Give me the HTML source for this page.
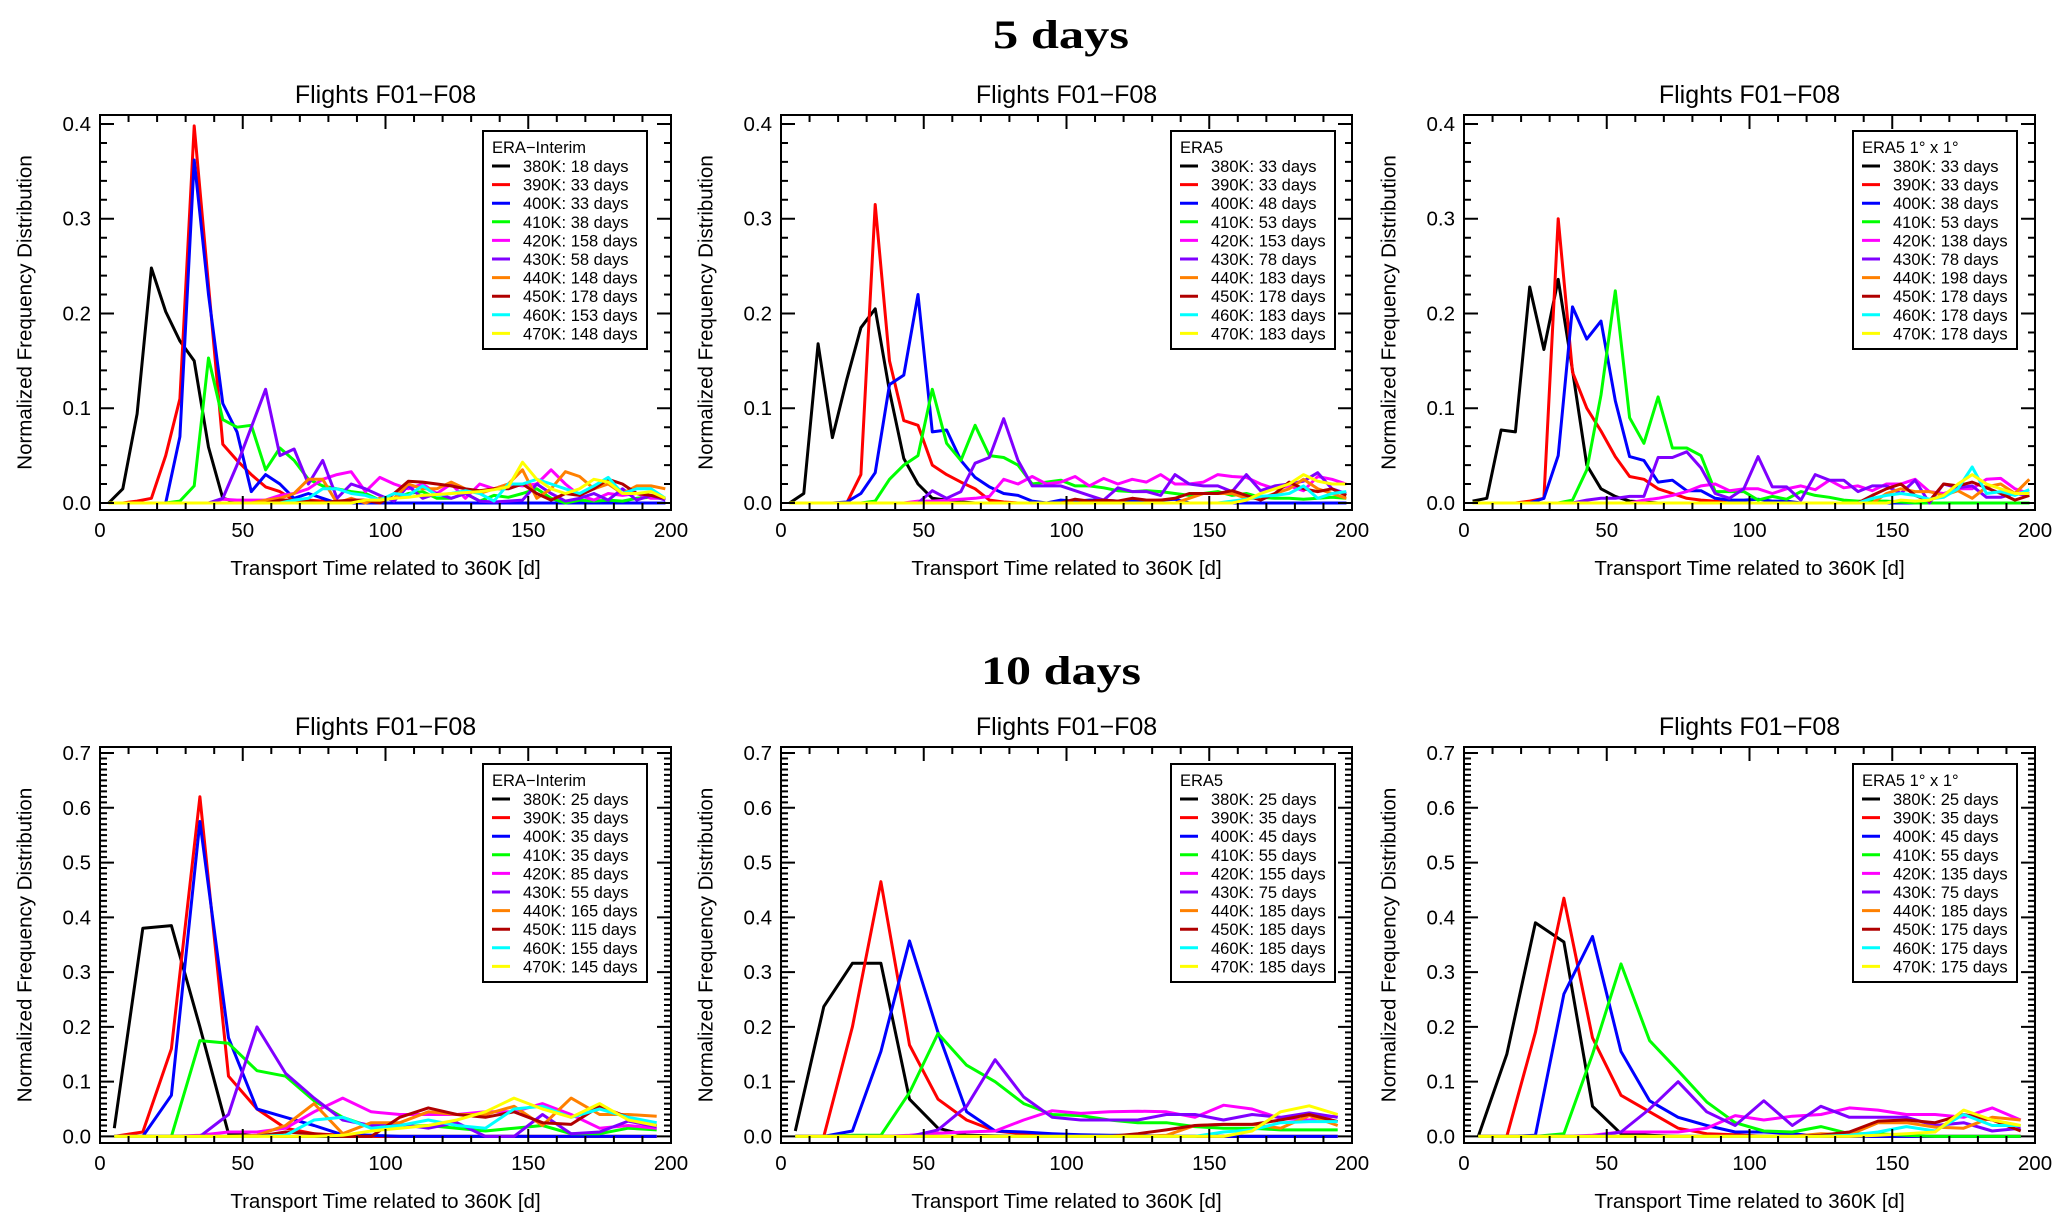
<!DOCTYPE html>
<html><head><meta charset="utf-8"><style>
html,body{margin:0;padding:0;background:#fff;}
svg{display:block;font-family:"Liberation Sans",Arial,sans-serif;}
</style></head><body>
<svg id="fig" width="2067" height="1231" viewBox="0 0 2067 1231" xmlns="http://www.w3.org/2000/svg">
<rect width="2067" height="1231" fill="#fff"/>
<text x="1061" y="48" font-family="Liberation Serif, serif" font-weight="bold" font-size="40" text-anchor="middle" textLength="136" lengthAdjust="spacingAndGlyphs">5 days</text>
<text x="1061" y="684" font-family="Liberation Serif, serif" font-weight="bold" font-size="40" text-anchor="middle" textLength="160" lengthAdjust="spacingAndGlyphs">10 days</text>
</svg>
<script>
// ---------- data ----------
const seriesLabels = ["380K","390K","400K","410K","420K","430K","440K","450K","460K","470K"];
const seriesColors = ["#000000","#ff0000","#0000ff","#00ff00","#ff00ff","#8000ff","#ff8000","#b00000","#00ffff","#ffff00"];
const xTicks = [0,50,100,150,200];
const yTicksTop = [0.0,0.1,0.2,0.3,0.4];
const yTicksBottom = [0.0,0.1,0.2,0.3,0.4,0.5,0.6,0.7];
const panelTitles = ["Flights F01\u2212F08","Flights F01\u2212F08","Flights F01\u2212F08","Flights F01\u2212F08","Flights F01\u2212F08","Flights F01\u2212F08"];
const legendTitles = ["ERA\u2212Interim","ERA5","ERA5 1\u00b0 x 1\u00b0","ERA\u2212Interim","ERA5","ERA5 1\u00b0 x 1\u00b0"];
const legendDaysA = [18,33,33,38,158,58,148,178,153,148];
const legendDaysB = [33,33,48,53,153,78,183,178,183,183];
const legendDaysC = [33,33,38,53,138,78,198,178,178,178];
const legendDaysD = [25,35,35,35,85,55,165,115,155,145];
const legendDaysE = [25,35,45,55,155,75,185,185,185,185];
const legendDaysF = [25,35,45,55,135,75,185,175,175,175];
// bin centres
const xTop = [3,8,13,18,23,28,33,38,43,48,53,58,63,68,73,78,83,88,93,98,103,108,113,118,123,128,133,138,143,148,153,158,163,168,173,178,183,188,193,198];
const xBottom = [5,15,25,35,45,55,65,75,85,95,105,115,125,135,145,155,165,175,185,195];
// Panel A: ERA-Interim, 5 days
const A380=[0,.015,.094,.248,.202,.171,.15,.059,.005,.001];
const A390=[0,0,.002,.005,.05,.11,.398,.23,.062,.045,.03,.017,.012,.003,.003,.002,.001];
const A400=[0,0,0,0,0,.07,.362,.22,.105,.075,.012,.03,.02,.005,.01,.005];
const A410=[0,0,0,0,0,.002,.018,.153,.088,.08,.082,.035,.058,.045,.025,.018,.015,.012,.01,.003,.005,.01,.012,.005,.005,.01,.002,.008,.006,.01,.015,.005,0,.003,.002,.003,.002,.005,.006,.005];
const A420=[0,0,0,0,0,0,0,0,.004,.003,.003,.003,.008,.01,.015,.025,.03,.033,.012,.027,.02,.015,.02,.01,.02,.005,.02,.015,.02,.018,.02,.035,.02,.008,.003,.01,.008,.01,.005,.005];
const A430=[0,0,0,0,0,0,0,0,.005,.04,.08,.12,.05,.057,.02,.045,.005,.02,.015,.008,.002,.018,.005,.01,.005,.01,.002,.001,.002,.003,.02,.01,.002,.005,.01,.003,.015,.003,.008,.003];
const A440=[0,0,0,0,0,0,0,0,0,0,0,.003,.005,.01,.025,.025,0,.005,0,.005,.005,.02,.015,.015,.022,.015,.01,.015,.02,.035,.005,.015,.033,.028,.015,.02,.01,.018,.018,.015];
const A450=[0,0,0,0,0,0,0,0,0,0,0,0,.003,.003,.002,0,.002,.003,.003,0,.01,.023,.022,.02,.018,.015,.013,.015,.015,.02,.01,.003,.01,.008,.015,.025,.02,.01,.008,.005];
const A460=[0,0,0,0,0,0,0,0,0,0,0,0,0,.003,.005,.015,.015,.01,.008,.003,.01,.008,.018,.008,.01,.013,.01,.002,.02,.02,.025,.02,.015,.01,.018,.027,.01,.015,.015,.005];
const A470=[0,0,0,0,0,0,0,0,0,0,0,0,0,0,0,0,0,0,.003,.003,.005,.006,.008,.009,.01,.011,.012,.014,.017,.043,.025,.015,.01,.015,.025,.022,.01,.01,.012,.005];
// Panel B: ERA5, 5 days
const B380=[0,.01,.168,.069,.13,.185,.205,.118,.047,.02,.005,.003,.001];
const B390=[0,0,0,0,0,.03,.315,.15,.087,.082,.04,.03,.022,.015,.003,.001];
const B400=[0,0,0,0,.001,.01,.032,.125,.135,.22,.075,.077,.045,.027,.017,.01,.008,.002,0,.003,.002,.003,.003,.002,.002,.002,.003,.004];
const B410=[0,0,0,0,0,0,.002,.025,.04,.05,.12,.063,.045,.082,.05,.048,.04,.02,.022,.024,.018,.018,.016,.013,.012,.013,.012,.01,.008,.01,.012,.008,.01,.006,.005,.005,.004,.005,.006,.005];
const B420=[0,0,0,0,0,0,0,0,0,.002,.002,.003,.004,.005,.007,.025,.02,.028,.02,.022,.028,.018,.026,.02,.025,.022,.03,.02,.02,.022,.03,.028,.027,.02,.015,.018,.013,.028,.025,.02];
const B430=[0,0,0,0,0,0,0,0,0,0,.013,.005,.012,.042,.048,.089,.045,.018,.018,.018,.013,.008,.003,.016,.012,.012,.008,.03,.02,.018,.018,.012,.03,.013,.018,.02,.023,.032,.015,.01];
const B440=[0,0,0,0,0,0,0,0,0,0,0,0,0,0,0,0,0,0,0,0,0,0,0,0,0,0,0,0,.005,.01,.01,.01,.005,.005,.01,.015,.025,.015,.01,.005];
const B450=[0,0,0,0,0,0,0,0,0,0,0,0,0,0,0,0,0,0,0,0,.004,.002,.003,.002,.005,.003,.003,.005,.01,.01,.01,.013,.008,.003,.01,.022,.015,.012,.015,.008];
const B460=[0,0,0,0,0,0,0,0,0,0,0,0,0,0,0,0,0,0,0,0,0,0,0,0,0,0,0,0,0,0,0,.002,.004,.007,.008,.01,.018,.005,.01,.012];
const B470=[0,0,0,0,0,0,0,0,0,0,0,0,0,0,0,0,0,0,0,0,0,0,0,0,0,0,0,0,0,0,0,0,.003,.01,.015,.02,.03,.023,.02,.02];
// Panel C: ERA5 1x1, 5 days
const C380=[.002,.005,.077,.075,.228,.162,.236,.14,.04,.015,.007,.002,.001];
const C390=[0,0,0,0,.002,.005,.3,.138,.1,.076,.049,.028,.025,.015,.01,.005,.003,.002];
const C400=[0,0,0,0,0,.005,.05,.207,.173,.192,.108,.049,.045,.022,.024,.013,.013,.005,.003,.003,.004,.002,.002];
const C410=[0,0,0,0,0,0,0,.003,.035,.114,.224,.09,.063,.112,.058,.058,.05,.012,.012,.012,.003,.007,.004,.012,.008,.006,.003,.002,.002,.002,.001];
const C420=[0,0,0,0,0,0,0,0,0,0,0,0,.003,.005,.008,.012,.018,.02,.013,.015,.015,.01,.015,.018,.014,.024,.016,.018,.013,.02,.02,.025,.012,.01,.015,.015,.025,.026,.015,.01];
const C430=[0,0,0,0,0,0,0,0,.003,.005,.005,.007,.007,.048,.048,.054,.037,.01,.005,.015,.049,.017,.017,.003,.03,.024,.024,.012,.018,.018,.01,.024,0,.02,.016,.018,.006,.006,.01,.008];
const C440=[0,0,0,0,0,0,0,0,0,0,0,0,0,0,0,0,0,0,0,0,0,0,0,0,0,0,0,0,0,.01,.015,.012,.012,.008,.013,.005,.017,.02,.01,.025];
const C450=[0,0,0,0,0,0,0,0,0,0,0,0,0,0,0,0,0,0,0,0,0,0,0,0,0,0,0,0,.008,.015,.02,.008,.002,.02,.018,.022,.016,.01,.003,.008];
const C460=[0,0,0,0,0,0,0,0,0,0,0,0,0,0,0,0,0,0,0,0,0,0,0,0,0,0,0,0,.005,.008,.01,.008,.004,.006,.015,.038,.01,.012,.008,.014];
const C470=[0,0,0,0,0,0,0,0,0,0,0,0,0,0,0,0,0,0,0,0,0,0,0,0,0,0,0,0,0,0,.003,.002,.003,.008,.02,.03,.02,.015,.01,.01];
// Panel D: ERA-Interim, 10 days
const D380=[.015,.38,.385,.2,.005,.001];
const D390=[0,.008,.16,.62,.11,.05,.015,.005,.002];
const D400=[0,0,.075,.575,.18,.05,.035,.02,.003,.002];
const D410=[0,0,0,.175,.17,.12,.11,.065,.035,.017,.018,.02,.015,.01,.015,.02,.005,.005,.015,.012];
const D420=[0,0,0,.002,.008,.008,.015,.045,.07,.045,.04,.04,.04,.045,.045,.06,.04,.015,.02,.015];
const D430=[0,0,0,0,.04,.2,.115,.07,.03,.02,.022,.015,.025,0,0,.04,.005,.008,.028,.018];
const D440=[0,0,0,0,0,.002,.02,.06,.005,.025,.025,.045,.04,.04,.055,.02,.07,.04,.04,.037];
const D450=[0,0,0,0,0,0,.008,.005,0,0,.035,.052,.04,.035,.045,.025,.022,.055,.035,.02];
const D460=[0,0,0,0,0,0,.002,.03,.035,.015,.02,.03,.02,.015,.05,.055,.035,.05,.035,.025];
const D470=[0,0,0,0,0,0,0,0,.002,.01,.015,.02,.03,.045,.07,.05,.035,.06,.03,.02];
// Panel E: ERA5, 10 days
const E380=[.01,.237,.316,.316,.068,.015,.002,.001];
const E390=[0,0,.2,.465,.167,.068,.03,.01,.005,.003,.002];
const E400=[0,0,.01,.155,.357,.19,.045,.01,.008,.005,.003,.002,.002];
const E410=[0,0,.002,.002,.08,.188,.13,.1,.06,.04,.038,.03,.025,.025,.018,.015,.015,.012,.012,.012];
const E420=[0,0,0,0,.002,.006,.008,.01,.03,.047,.042,.045,.046,.045,.035,.057,.05,.033,.03,.038];
const E430=[0,0,0,0,0,.012,.055,.14,.072,.035,.03,.03,.03,.04,.04,.03,.04,.035,.043,.035];
const E440=[0,0,0,0,0,0,0,0,0,0,0,0,0,.002,.02,.022,.022,.015,.038,.02];
const E450=[0,0,0,0,0,0,0,0,0,0,0,0,.005,.012,.02,.022,.022,.03,.04,.027];
const E460=[0,0,0,0,0,0,0,0,0,0,0,0,0,0,0,.008,.012,.025,.027,.027];
const E470=[0,0,0,0,0,0,0,0,0,0,0,0,0,0,0,0,.01,.045,.056,.04];
// Panel F: ERA5 1x1, 10 days
const F380=[0,.15,.39,.355,.055,.005,.002];
const F390=[0,0,.19,.435,.18,.075,.045,.015,.005,.003];
const F400=[0,0,.002,.26,.365,.155,.065,.035,.02,.008,.008,.005];
const F410=[0,0,0,.005,.15,.315,.175,.12,.063,.025,.01,.008,.018,.005,.005,.002];
const F420=[0,0,0,0,.002,.008,.008,.008,.015,.038,.03,.037,.04,.052,.048,.04,.04,.035,.052,.03];
const F430=[0,0,0,0,0,.008,.05,.1,.045,.02,.065,.02,.055,.035,.035,.035,.02,.025,.01,.015];
const F440=[0,0,0,0,0,0,0,0,0,0,0,0,.005,.003,.025,.025,.017,.015,.035,.03];
const F450=[0,0,0,0,0,0,0,0,0,0,0,0,.002,.008,.028,.03,.025,.04,.03,.01];
const F460=[0,0,0,0,0,0,0,0,0,0,0,0,0,.002,.008,.018,.01,.04,.02,.02];
const F470=[0,0,0,0,0,0,0,0,0,0,0,0,0,0,.002,.005,.008,.048,.03,.02];

// ---------- layout ----------
const NS = "http://www.w3.org/2000/svg";
const svg = document.getElementById("fig");
function mk(tag, attrs, parent){
  const e = document.createElementNS(NS, tag);
  for (const k in attrs) e.setAttribute(k, attrs[k]);
  (parent||svg).appendChild(e);
  return e;
}
const panels = [
  {x0:100, x1:671, y0:115, y1:510, ymin:-0.0074, ymax:0.4095, yt:yTicksTop, minorY:0.02, xs:xTop, data:[A380,A390,A400,A410,A420,A430,A440,A450,A460,A470], days:legendDaysA, lx:483, ly:131, n:"era-interim-5d"},
  {x0:781, x1:1352, y0:115, y1:510, ymin:-0.0074, ymax:0.4095, yt:yTicksTop, minorY:0.02, xs:xTop, data:[B380,B390,B400,B410,B420,B430,B440,B450,B460,B470], days:legendDaysB, lx:1171, ly:131, n:"era5-5d"},
  {x0:1464, x1:2035, y0:115, y1:510, ymin:-0.0074, ymax:0.4095, yt:yTicksTop, minorY:0.02, xs:xTop, data:[C380,C390,C400,C410,C420,C430,C440,C450,C460,C470], days:legendDaysC, lx:1853, ly:131, n:"era5-1x1-5d"},
  {x0:100, x1:671, y0:747, y1:1143, ymin:-0.012, ymax:0.711, yt:yTicksBottom, minorY:0.01, xs:xBottom, data:[D380,D390,D400,D410,D420,D430,D440,D450,D460,D470], days:legendDaysD, lx:483, ly:764, n:"era-interim-10d"},
  {x0:781, x1:1352, y0:747, y1:1143, ymin:-0.012, ymax:0.711, yt:yTicksBottom, minorY:0.01, xs:xBottom, data:[E380,E390,E400,E410,E420,E430,E440,E450,E460,E470], days:legendDaysE, lx:1171, ly:764, n:"era5-10d"},
  {x0:1464, x1:2035, y0:747, y1:1143, ymin:-0.012, ymax:0.711, yt:yTicksBottom, minorY:0.01, xs:xBottom, data:[F380,F390,F400,F410,F420,F430,F440,F450,F460,F470], days:legendDaysF, lx:1853, ly:764, n:"era5-1x1-10d"}
];

panels.forEach((p, pi) => {
  const g = mk("g", {});
  
  
  const sx = v => p.x0 + (v - 0) / 200 * (p.x1 - p.x0);
  const sy = v => p.y1 - (v - p.ymin) / (p.ymax - p.ymin) * (p.y1 - p.y0);
  const cx = (p.x0 + p.x1) / 2;

  const t = mk("text", {x:cx, y:p.y0 - 12, "font-size":25, "text-anchor":"middle"}, g);
  t.textContent = panelTitles[pi];
  
  

  const cid = "clip" + pi;
  const cp = mk("clipPath", {id:cid}, g);
  mk("rect", {x:p.x0, y:p.y0, width:p.x1-p.x0, height:p.y1-p.y0}, cp);

  const sg = mk("g", {"clip-path":"url(#"+cid+")"}, g);
  p.data.forEach((arr, si) => {
    let d = "";
    p.xs.forEach((xv, i) => {
      const v = i < arr.length ? arr[i] : 0;
      d += (i ? "L" : "M") + sx(xv).toFixed(1) + "," + sy(v).toFixed(1);
    });
    const path = mk("path", {d:d, fill:"none", stroke:seriesColors[si], "stroke-width":3, "stroke-linejoin":"round"}, sg);
    
    
  });

  const fr = mk("rect", {x:p.x0, y:p.y0, width:p.x1-p.x0, height:p.y1-p.y0, fill:"none", stroke:"#000", "stroke-width":2}, g);
  
  

  let td = "";
  for (let v = 0; v <= 200; v += 10) {
    const L = (v % 50 === 0) ? 14 : 7;
    const X = sx(v);
    td += "M"+X+","+p.y1+"v"+(-L)+"M"+X+","+p.y0+"v"+L;
  }
  const ymaxT = p.yt[p.yt.length-1];
  const nMinor = Math.round(ymaxT / p.minorY);
  for (let k = 0; k <= nMinor; k++) {
    const v = k * p.minorY;
    const major = Math.abs((v / 0.1) - Math.round(v / 0.1)) < 1e-6;
    const L = major ? 14 : 7;
    const Y = sy(v);
    td += "M"+p.x0+","+Y+"h"+L+"M"+p.x1+","+Y+"h"+(-L);
  }
  const ticks = mk("path", {d:td, stroke:"#000", "stroke-width":2, fill:"none"}, g);
  
  

  xTicks.forEach(v => {
    const tl = mk("text", {x:sx(v), y:p.y1 + 27, "font-size":20.5, "text-anchor":"middle"}, g);
    tl.textContent = String(v);
    
    
  });
  p.yt.forEach(v => {
    const tl = mk("text", {x:p.x0 - 9, y:sy(v) + 7, "font-size":20.5, "text-anchor":"end"}, g);
    tl.textContent = v.toFixed(1);
    
    
  });

  const xl = mk("text", {x:cx, y:p.y1 + 65, "font-size":20.5, "text-anchor":"middle"}, g);
  xl.textContent = "Transport Time related to 360K [d]";
  
  

  const ycy = (p.y0 + p.y1) / 2, ycx = p.x0 - 75;
  const yl = mk("text", {x:ycx, y:ycy, "font-size":20.5, "text-anchor":"middle", "dominant-baseline":"central", transform:"rotate(-90 "+ycx+" "+ycy+")"}, g);
  yl.textContent = "Normalized Frequency Distribution";
  
  

  const lg = mk("g", {}, g);
  
  
  mk("rect", {x:p.lx, y:p.ly, width:164, height:218, fill:"#fff", stroke:"#000", "stroke-width":2}, lg);
  const lt = mk("text", {x:p.lx + 9, y:p.ly + 22, "font-size":16.5}, lg);
  lt.textContent = legendTitles[pi];
  
  
  seriesLabels.forEach((lab, si) => {
    const ry = p.ly + 35 + si * 18.6;
    const e = mk("g", {}, lg);
    
    
    mk("line", {x1:p.lx + 9, x2:p.lx + 27, y1:ry, y2:ry, stroke:seriesColors[si], "stroke-width":3}, e);
    const tx = mk("text", {x:p.lx + 40, y:ry + 6, "font-size":16.5}, e);
    tx.textContent = lab + ": " + p.days[si] + " days";
  });
});
</script>
</body></html>
